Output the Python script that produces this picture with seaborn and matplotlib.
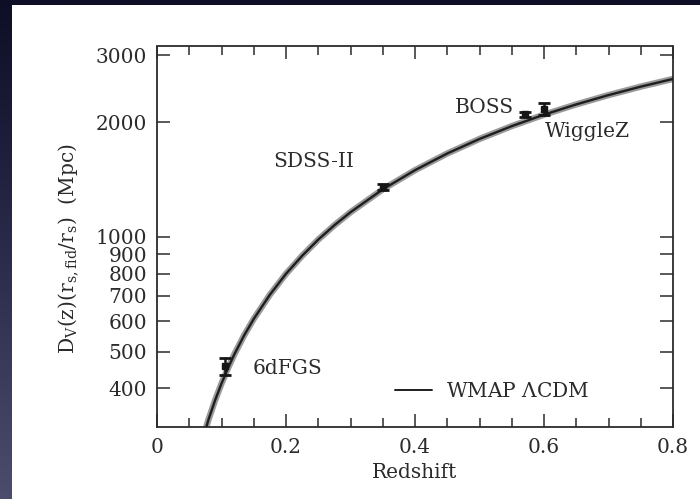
import numpy as np
import pandas as pd
import matplotlib
matplotlib.use("Agg")
import matplotlib.pyplot as plt
from matplotlib.colors import LinearSegmentedColormap
from matplotlib.patches import Rectangle
from matplotlib.lines import Line2D
from matplotlib.ticker import FixedLocator, NullLocator, MultipleLocator
import seaborn as sns

# ---- data ----
model_z = [0.07, 0.075, 0.08, 0.09, 0.10, 0.11, 0.12, 0.135, 0.15, 0.175, 0.20,
           0.225, 0.25, 0.275, 0.30, 0.35, 0.40, 0.45, 0.50, 0.55, 0.60, 0.65,
           0.70, 0.75, 0.80]
model_dv = [291, 311, 332, 372, 412, 452, 492, 551, 609, 705, 800,
            892, 984, 1073, 1161, 1333, 1497, 1656, 1808, 1954, 2094, 2228,
            2357, 2481, 2599]

survey_names = ["6dFGS", "SDSS-II", "BOSS", "WiggleZ"]
survey_z = [0.106, 0.35, 0.57, 0.60]
survey_dv = [457, 1352, 2100, 2165]
survey_err = [23, 22, 30, 80]

ytick_vals = [400, 500, 600, 700, 800, 900, 1000, 2000, 3000]
ytick_labels = ["400", "500", "600", "700", "800", "900", "1000", "2000", "3000"]
xtick_vals = [0, 0.2, 0.4, 0.6, 0.8]
xtick_labels = ["0", "0.2", "0.4", "0.6", "0.8"]

# ---- style ----
sns.set_theme(style="ticks")
ink = "#2b2b2b"
plt.rcParams.update({
    "font.family": ["DejaVu Serif"],
    "mathtext.fontset": "dejavuserif",
    "xtick.direction": "in",
    "ytick.direction": "in",
    "xtick.top": True,
    "ytick.right": True,
    "axes.edgecolor": ink,
    "text.color": ink,
    "axes.labelcolor": ink,
    "xtick.color": ink,
    "ytick.color": ink,
})

fig = plt.figure(figsize=(7.0, 4.99), dpi=100)

# slide background
bg = fig.add_axes([0, 0, 1, 1], zorder=0)
grad = np.linspace(0, 1, 256).reshape(-1, 1)
cmap = LinearSegmentedColormap.from_list("slide", ["#0e0e26", "#2a2a4a", "#4c4c6c"])
bg.imshow(grad, aspect="auto", extent=[0, 1, 0, 1], cmap=cmap, origin="upper")
bg.add_patch(Rectangle((12 / 700, 0), 1 - 12 / 700, (499 - 5) / 499,
                       facecolor="white", edgecolor="none"))
bg.set_xlim(0, 1); bg.set_ylim(0, 1)
bg.axis("off")

ax = fig.add_axes([157 / 700, 71.7 / 499, 516 / 700, 380.8 / 499], zorder=1)

model = pd.DataFrame({"z": model_z, "dv": model_dv})
sns.lineplot(data=model, x="z", y="dv", ax=ax, color="#9a9a9a", lw=4.6,
             solid_capstyle="round", zorder=2)
sns.lineplot(data=model, x="z", y="dv", ax=ax, color="#1e1e1e", lw=1.7, zorder=3)

ax.errorbar(survey_z, survey_dv, yerr=survey_err, fmt="s", color="#151515",
            ms=5, capsize=4.5, elinewidth=1.8, capthick=2.0, zorder=4)

ax.set_yscale("log")
ax.set_xlim(0, 0.8)
ax.set_ylim(10 ** 2.5, 10 ** 3.5)

ax.yaxis.set_major_locator(FixedLocator(ytick_vals))
ax.set_yticklabels(ytick_labels)
ax.yaxis.set_minor_locator(NullLocator())
ax.xaxis.set_major_locator(FixedLocator(xtick_vals))
ax.set_xticklabels(xtick_labels)
ax.xaxis.set_minor_locator(MultipleLocator(0.05))

fs = 14.5
ax.tick_params(axis="both", which="major", length=9.5, width=1.1, labelsize=fs, pad=7)
ax.tick_params(axis="x", which="minor", length=6.5, width=1.1)
ax.tick_params(axis="x", which="major", pad=8)
for sp in ax.spines.values():
    sp.set_linewidth(1.3)

ax.set_xlabel("Redshift", fontsize=fs, labelpad=4)
ax.set_ylabel(r"$\mathrm{D_V(z)(r_{s,fid}/r_s)}$  (Mpc)", fontsize=14.5)
ax.yaxis.set_label_coords(-0.15, 0.47)

# survey labels
label_pos = {"6dFGS": (0.148, 450), "SDSS-II": (0.18, 1575),
             "BOSS": (0.462, 2181), "WiggleZ": (0.602, 1887)}
for name in survey_names:
    x, y = label_pos[name]
    ax.text(x, y, name, fontsize=fs, ha="left", va="center")

handle = Line2D([], [], color="#1e1e1e", lw=1.4)
leg = ax.legend([handle], [r"WMAP $\Lambda$CDM"], loc="center left",
                bbox_to_anchor=(0.462, 0.093), frameon=False, fontsize=fs,
                handlelength=1.8, handletextpad=0.7, borderpad=0, borderaxespad=0)

fig.savefig("out.png", dpi=100)
